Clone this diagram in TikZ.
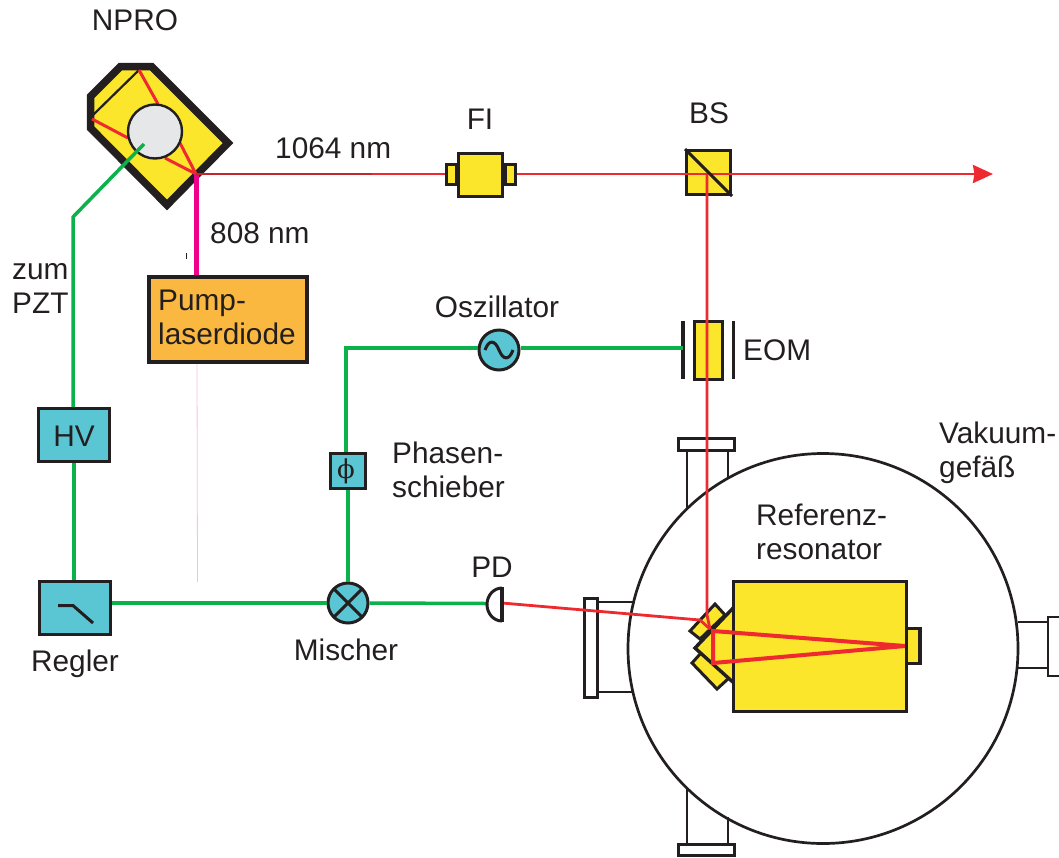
\documentclass[tikz,border=0pt]{standalone}
\usepackage{fontspec}
\setmainfont{Liberation Sans}
\newfontfamily\phifont{DejaVu Serif}
\usetikzlibrary{arrows.meta}
\definecolor{ink}{HTML}{231F20}
\definecolor{laser}{HTML}{EE2A30}
\definecolor{laserdark}{HTML}{C2272D}
\definecolor{sig}{HTML}{0DB14B}
\definecolor{pump}{HTML}{EC008C}
\definecolor{yel}{HTML}{FBE62B}
\definecolor{cyanbox}{HTML}{5AC5D3}
\definecolor{orangebox}{HTML}{FAB840}
\definecolor{crystal}{HTML}{E6E7E8}
\tikzset{
  lab/.style={font=\fontsize{29.8}{33.5}\selectfont, text=ink, inner sep=0, align=left},
  box/.style={draw=ink, line width=3pt, inner sep=0},
  ybox/.style={box, fill=yel},
  cbox/.style={box, fill=cyanbox},
  roundbox/.style={circle, draw=ink, line width=3pt, fill=cyanbox, inner sep=0, minimum size=40pt},
  sigline/.style={draw=sig, line width=3.5pt},
  beam/.style={draw=laser, line width=2.8pt},
  beamthick/.style={draw=laser, line width=4pt},
  sym/.style={draw=ink, line width=3pt},
  wall/.style={draw=ink, line width=2.7pt},
}
\begin{document}
\begin{tikzpicture}[x=1pt,y=-1pt]
\useasboundingbox (0,0) rectangle (1059,857);

% vacuum vessel with flanges
\node[wall, draw=ink, fill=white, minimum width=56.3pt, minimum height=12.3pt, inner sep=0, anchor=north west] (ftop) at (677,437) {};
\node[wall, draw=ink, fill=white, minimum width=56.3pt, minimum height=11pt, inner sep=0, anchor=north west] (fbot) at (677,843) {};
\node[wall, draw=ink, fill=white, minimum width=13.3pt, minimum height=99.3pt, inner sep=0, anchor=north west] (fleft) at (583,597) {};
\draw[wall] (687,452) -- (687,509) (728,452) -- (728,479);
\draw[wall] (687,843) -- (687,787) (728,843) -- (728,817);
\draw[wall] (599,602) -- (634,602) (599,692) -- (634,692);
\draw[wall] (1018,622) -- (1048,622) (1018,668) -- (1048,668);
\draw[wall] (1059,617) -- (1048,617) -- (1048,676) -- (1059,676);
\node[circle, wall, draw=ink, inner sep=0, minimum size=390pt] (vessel) at (823,648.5) {};

% resonator
\draw[ybox] (715,604) -- (725,615) -- (700,639) -- (690,631) -- cycle;
\draw[ybox] (701,653) -- (692,663) -- (717,689) -- (729,678);
\draw[sym, fill=yel, line width=3.4pt] (735,606) -- (695,648) -- (735,684);
\fill[yel] (900,628.5) rectangle (920,663.5);
\draw[sym] (900,628.5) -- (920,628.5) (900,663.5) -- (920,663.5);
\draw[sym, line width=4.5pt] (920,627) -- (920,665);
\node[ybox, minimum width=173pt, minimum height=130pt, anchor=north west] (res) at (732,580) {};

% NPRO
\draw[draw=ink, fill=yel, line width=7.5pt, miter limit=10] (120.5,66.5) -- (151.5,66.5) -- (228,143) -- (167,205) -- (90.5,128) -- (90.5,96.5) -- cycle;
\draw[draw=ink, line width=2.2pt] (139,70) -- (93,115);
\draw[draw=laser, line width=3pt] (139,70) -- (158,104) (92,119) -- (128,138) (180,143) -- (196,174) (165,158) -- (196,174);
\node[circle, draw=ink, line width=2.4pt, fill=crystal, inner sep=0, minimum size=54pt] (rod) at (155,131.5) {};
\coordinate (pzt) at (144,144);
\coordinate (knee) at (73,217);
\coordinate (out) at (196,174);
\coordinate (tip) at (993,174);

% boxes
\node[box, fill=orangebox, line width=3.6pt, minimum width=158.4pt, minimum height=85.4pt, anchor=north west] (pumpld) at (147,275) {};
\node[cbox, minimum width=71pt, minimum height=53pt, anchor=north west] (hv) at (37,407) {};
\node[cbox, minimum width=71pt, minimum height=53pt, anchor=north west] (regler) at (38,580) {};
\node[cbox, minimum width=35pt, minimum height=35pt, anchor=north west] (phi) at (329,452) {};
\node[roundbox] (mix) at (348,603) {};
\node[roundbox] (osc) at (499,350) {};

% FI, BS, EOM
\node[ybox, minimum width=10pt, minimum height=20pt] (fil) at (451,174) {};
\node[ybox, minimum width=10pt, minimum height=20pt] (fir) at (510,174) {};
\node[ybox, minimum width=44pt, minimum height=43pt, anchor=north west] (fi) at (457,152) {};
\node[ybox, minimum width=44pt, minimum height=44pt, anchor=north west] (bs) at (685,149) {};
\node[ybox, minimum width=28pt, minimum height=58pt, anchor=north west] (eom) at (693,320) {};
\draw[sym, line width=3.2pt] (683,321) -- (683,379);
\draw[sym, line width=3.2pt] (733.5,321) -- (733.5,379);
\coordinate (plate) at (683,348);
\coordinate (pd) at (487,603.5);
\coordinate (pdf) at (502,603);
\coordinate (corner) at (346,348);

% green
\draw[sigline] (pzt) -- (knee) -- (knee |- hv.north);
\draw[sigline] (hv.south) -- (regler.north -| hv.south);
\draw[sigline] (regler.east |- mix.west) -- (mix.west);
\draw[sigline] (mix.east) -- (pd);
\draw[sigline] (mix.north) -- (phi.south -| mix.north);
\draw[sigline] (corner |- phi.north) -- (corner) -- (corner -| osc.west);
\draw[sigline] (osc.east |- plate) -- (plate);

% pump
\draw[draw=pump, line width=5pt] (out) -- (out |- pumpld.north);
\draw[draw=pump!25, line width=.8pt] (197,364) -- (197.5,582);
\draw[draw=ink, line width=.5pt] (186,253) -- (186,259);

% beams
\draw[draw=laserdark, line width=2.8pt] (out) -- (372,174);
\draw[beam] (372,174) -- (fil.west);
\draw[beam] (fir.east) -- (fir.east -| bs.west);
\draw[beam] (bs.west |- tip) -- (bs.east |- tip);
\draw[beam, -{Stealth[length=20pt,width=18pt,inset=1.5pt]}] (bs.east |- tip) -- (tip);
\draw[sym] (bs.north west) -- (bs.south east);
\draw[beam] (707,174) -- (707,615) -- (710,629);
\draw[beam] (pdf) -- (700,620) -- (710,629);
\draw[beamthick] (713,631) -- (905,646) -- (713,663) -- cycle;

% PD symbol
\draw[sym] (502,588) arc[start angle=270, end angle=90, x radius=15, y radius=16.5];
\draw[sym, line width=3.6pt] (502,587) -- (502,622);

% symbols
\draw[sym] (58,605.5) -- (73,605.5) -- (93,623);
\draw[sym] (334,589) -- (362,617) (362,589) -- (334,617);
\draw[sym] (485,350) .. controls (489,339) and (495,340) .. (499,350) .. controls (503,360) and (509,361) .. (513,350);
\node[inner sep=0, text=ink, font=\phifont\fontsize{26}{26}\selectfont] (philab) at (346,471) {ϕ};

% labels
\node[lab, anchor=base] (tnpro) at (135,30) {NPRO};
\node[lab, anchor=base west] (t1064) at (275,158) {1064 nm};
\node[lab, anchor=base] (tfi) at (480,129) {FI};
\node[lab, anchor=base] (tbs) at (709,123) {BS};
\node[lab, anchor=base west] (t808) at (210,243) {808 nm};
\node[lab, anchor=base west] (tzum) at (12,313) {zum\\PZT};
\node[lab, anchor=base west] (tpump) at (158,344) {Pump-\\laserdiode};
\node[lab, anchor=base] (tosc) at (497,317) {Oszillator};
\node[lab, anchor=base west] (teom) at (743,360) {EOM};
\node[lab, anchor=base] (thv) at (74,446) {HV};
\node[lab, anchor=base west] (tphase) at (392,497) {Phasen-\\schieber};
\node[lab, anchor=base west] (tvak) at (939,477) {Vakuum-\\gefäß};
\node[lab, anchor=base west] (tref) at (756,559) {Referenz-\\resonator};
\node[lab, anchor=base] (tpd) at (492,577) {PD};
\node[lab, anchor=base] (tmisch) at (346,660) {Mischer};
\node[lab, anchor=base] (tregler) at (75,671) {Regler};
\end{tikzpicture}
\end{document}
